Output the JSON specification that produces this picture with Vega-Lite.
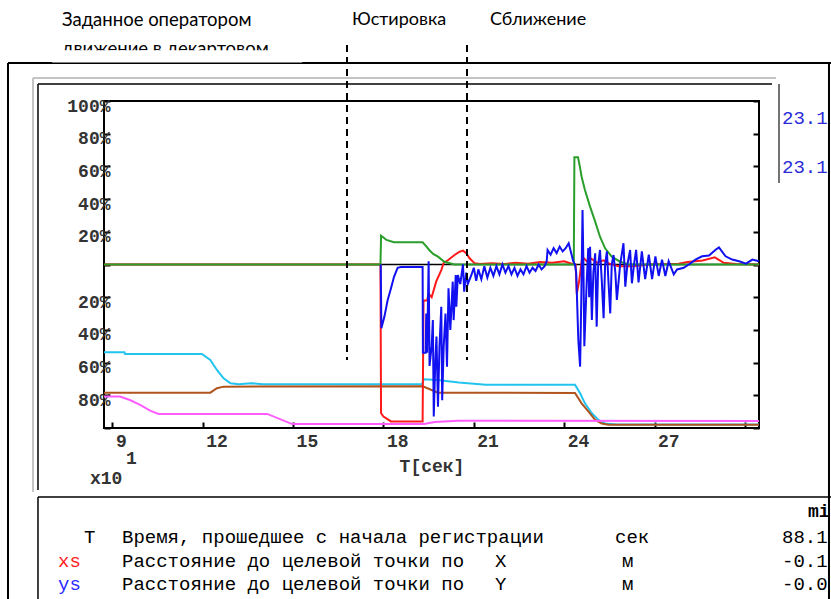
{
  "$schema": "https://vega.github.io/schema/vega-lite/v6.json",
  "width": 655,
  "height": 327,
  "autosize": {"type": "none"},
  "padding": {"left": 104, "top": 101, "right": 72, "bottom": 171},
  "background": "#ffffff",
  "data": {"values": [{}]},
  "config": {
    "view": {"stroke": "#000000", "strokeWidth": 2},
    "axis": {"grid": false, "domain": false, "tickColor": "#000000", "tickWidth": 2, "labelFont": "Liberation Mono", "labelFontSize": 18, "labelFontWeight": "bold", "labelColor": "#333333", "titleFont": "Liberation Mono", "titleFontSize": 18, "titleFontWeight": "bold", "titleColor": "#333333"}
  },
  "resolve": {"axis": {"y": "independent"}},
  "datasets": {
    "series": [
      {"s": "cyan", "t": 8.72, "v": -53.7}, {"s": "cyan", "t": 9.4, "v": -53.7}, {"s": "cyan", "t": 9.42, "v": -54.7}, {"s": "cyan", "t": 11.97, "v": -54.7}, {"s": "cyan", "t": 12.25, "v": -58.4}, {"s": "cyan", "t": 12.47, "v": -64.5}, {"s": "cyan", "t": 12.69, "v": -69.6}, {"s": "cyan", "t": 12.92, "v": -72.7}, {"s": "cyan", "t": 13.2, "v": -73.2}, {"s": "cyan", "t": 13.6, "v": -72.6}, {"s": "cyan", "t": 14.0, "v": -73.2}, {"s": "cyan", "t": 19.28, "v": -73.2}, {"s": "cyan", "t": 19.34, "v": -70.2}, {"s": "cyan", "t": 19.8, "v": -70.6}, {"s": "cyan", "t": 20.5, "v": -72.2}, {"s": "cyan", "t": 21.4, "v": -73.5}, {"s": "cyan", "t": 24.36, "v": -73.5}, {"s": "cyan", "t": 24.53, "v": -78.8}, {"s": "cyan", "t": 24.69, "v": -84.9}, {"s": "cyan", "t": 24.92, "v": -91}, {"s": "cyan", "t": 25.14, "v": -95.1}, {"s": "cyan", "t": 25.36, "v": -97.2}, {"s": "cyan", "t": 25.75, "v": -97.8}, {"s": "cyan", "t": 30.47, "v": -97.8},
      {"s": "brown", "t": 8.72, "v": -78.4}, {"s": "brown", "t": 12.25, "v": -78.4}, {"s": "brown", "t": 12.47, "v": -75.7}, {"s": "brown", "t": 12.69, "v": -74.7}, {"s": "brown", "t": 19.3, "v": -74.5}, {"s": "brown", "t": 19.5, "v": -76}, {"s": "brown", "t": 19.81, "v": -78.4}, {"s": "brown", "t": 24.36, "v": -78.6}, {"s": "brown", "t": 24.58, "v": -84.9}, {"s": "brown", "t": 24.81, "v": -90}, {"s": "brown", "t": 25.03, "v": -95.1}, {"s": "brown", "t": 25.25, "v": -97.2}, {"s": "brown", "t": 25.47, "v": -98}, {"s": "brown", "t": 30.47, "v": -98},
      {"s": "magenta", "t": 8.72, "v": -80.8}, {"s": "magenta", "t": 9.25, "v": -80.8}, {"s": "magenta", "t": 9.58, "v": -82.9}, {"s": "magenta", "t": 9.92, "v": -85.9}, {"s": "magenta", "t": 10.25, "v": -89.4}, {"s": "magenta", "t": 10.53, "v": -91.4}, {"s": "magenta", "t": 14.14, "v": -91.4}, {"s": "magenta", "t": 14.97, "v": -97.6}, {"s": "magenta", "t": 19.35, "v": -97.6}, {"s": "magenta", "t": 19.7, "v": -96.3}, {"s": "magenta", "t": 20.47, "v": -95.5}, {"s": "magenta", "t": 30.47, "v": -95.7},
      {"s": "red", "t": 8.72, "v": 0}, {"s": "red", "t": 17.9, "v": 0}, {"s": "red", "t": 17.92, "v": -91}, {"s": "red", "t": 18.0, "v": -93}, {"s": "red", "t": 18.25, "v": -96}, {"s": "red", "t": 19.3, "v": -96}, {"s": "red", "t": 19.33, "v": -22}, {"s": "red", "t": 19.45, "v": -22}, {"s": "red", "t": 19.5, "v": -18}, {"s": "red", "t": 19.6, "v": -20}, {"s": "red", "t": 19.75, "v": -10.5}, {"s": "red", "t": 19.92, "v": -3.4}, {"s": "red", "t": 20.0, "v": 1}, {"s": "red", "t": 20.14, "v": 2.6}, {"s": "red", "t": 20.36, "v": 5.8}, {"s": "red", "t": 20.53, "v": 7.8}, {"s": "red", "t": 20.64, "v": 8.5}, {"s": "red", "t": 20.75, "v": 6.9}, {"s": "red", "t": 20.86, "v": 3.8}, {"s": "red", "t": 21.03, "v": 0.7}, {"s": "red", "t": 21.2, "v": 0.3}, {"s": "red", "t": 21.6, "v": 0.8}, {"s": "red", "t": 22.0, "v": 0.3}, {"s": "red", "t": 22.4, "v": 1}, {"s": "red", "t": 22.8, "v": 0.5}, {"s": "red", "t": 23.2, "v": 1.5}, {"s": "red", "t": 23.6, "v": 1}, {"s": "red", "t": 24.0, "v": 2}, {"s": "red", "t": 24.25, "v": 0.5}, {"s": "red", "t": 24.38, "v": 0}, {"s": "red", "t": 24.42, "v": -18}, {"s": "red", "t": 24.5, "v": -10}, {"s": "red", "t": 24.6, "v": 4.8}, {"s": "red", "t": 24.75, "v": 2}, {"s": "red", "t": 24.9, "v": 3.5}, {"s": "red", "t": 25.1, "v": 1}, {"s": "red", "t": 25.3, "v": 2.5}, {"s": "red", "t": 25.5, "v": 0.5}, {"s": "red", "t": 25.8, "v": -1}, {"s": "red", "t": 26.3, "v": -1}, {"s": "red", "t": 26.8, "v": 0}, {"s": "red", "t": 27.8, "v": 0.5}, {"s": "red", "t": 28.1, "v": 1.5}, {"s": "red", "t": 28.6, "v": 2.5}, {"s": "red", "t": 29.0, "v": 4.4}, {"s": "red", "t": 29.3, "v": 1}, {"s": "red", "t": 29.7, "v": 0.3}, {"s": "red", "t": 30.47, "v": 0},
      {"s": "green", "t": 8.72, "v": 0}, {"s": "green", "t": 17.9, "v": 0}, {"s": "green", "t": 17.92, "v": 17.6}, {"s": "green", "t": 18.0, "v": 16.5}, {"s": "green", "t": 18.1, "v": 15}, {"s": "green", "t": 18.35, "v": 13.6}, {"s": "green", "t": 19.3, "v": 13.6}, {"s": "green", "t": 19.4, "v": 11.5}, {"s": "green", "t": 19.52, "v": 8.9}, {"s": "green", "t": 19.65, "v": 6.5}, {"s": "green", "t": 19.81, "v": 4.8}, {"s": "green", "t": 20.02, "v": 1.7}, {"s": "green", "t": 20.35, "v": 0}, {"s": "green", "t": 24.32, "v": 0}, {"s": "green", "t": 24.34, "v": 65.6}, {"s": "green", "t": 24.46, "v": 65.6}, {"s": "green", "t": 24.52, "v": 60}, {"s": "green", "t": 24.58, "v": 53.7}, {"s": "green", "t": 24.69, "v": 45.6}, {"s": "green", "t": 24.86, "v": 35.4}, {"s": "green", "t": 25.03, "v": 26.2}, {"s": "green", "t": 25.19, "v": 17.0}, {"s": "green", "t": 25.36, "v": 9.9}, {"s": "green", "t": 25.58, "v": 4.8}, {"s": "green", "t": 25.86, "v": 1.7}, {"s": "green", "t": 26.14, "v": 0}, {"s": "green", "t": 30.47, "v": 0},
      {"s": "blue", "t": 17.91, "v": 0}, {"s": "blue", "t": 17.93, "v": -39}, {"s": "blue", "t": 18.03, "v": -32}, {"s": "blue", "t": 18.14, "v": -21.7}, {"s": "blue", "t": 18.25, "v": -14.5}, {"s": "blue", "t": 18.35, "v": -7.5}, {"s": "blue", "t": 18.47, "v": -2}, {"s": "blue", "t": 18.58, "v": -1.6}, {"s": "blue", "t": 19.3, "v": -1.6}, {"s": "blue", "t": 19.31, "v": -54}, {"s": "blue", "t": 19.4, "v": -54}, {"s": "blue", "t": 19.42, "v": -30}, {"s": "blue", "t": 19.45, "v": -54}, {"s": "blue", "t": 19.5, "v": 2}, {"s": "blue", "t": 19.53, "v": -62}, {"s": "blue", "t": 19.6, "v": -50}, {"s": "blue", "t": 19.64, "v": -34}, {"s": "blue", "t": 19.67, "v": -93}, {"s": "blue", "t": 19.72, "v": -60}, {"s": "blue", "t": 19.76, "v": -44}, {"s": "blue", "t": 19.81, "v": -87}, {"s": "blue", "t": 19.86, "v": -50}, {"s": "blue", "t": 19.92, "v": -25.8}, {"s": "blue", "t": 19.95, "v": -83}, {"s": "blue", "t": 20.0, "v": -50}, {"s": "blue", "t": 20.06, "v": -30}, {"s": "blue", "t": 20.11, "v": -62.5}, {"s": "blue", "t": 20.16, "v": -14.5}, {"s": "blue", "t": 20.22, "v": -40}, {"s": "blue", "t": 20.3, "v": -10.5}, {"s": "blue", "t": 20.33, "v": -34}, {"s": "blue", "t": 20.4, "v": -6.4}, {"s": "blue", "t": 20.42, "v": -25.8}, {"s": "blue", "t": 20.47, "v": -6.4}, {"s": "blue", "t": 20.55, "v": -12}, {"s": "blue", "t": 20.64, "v": 0}, {"s": "blue", "t": 20.68, "v": -16.6}, {"s": "blue", "t": 20.75, "v": -5}, {"s": "blue", "t": 20.8, "v": -12}, {"s": "blue", "t": 20.92, "v": -6.4}, {"s": "blue", "t": 21.0, "v": -2}, {"s": "blue", "t": 21.08, "v": -10}, {"s": "blue", "t": 21.15, "v": -3}, {"s": "blue", "t": 21.25, "v": -9}, {"s": "blue", "t": 21.35, "v": -1}, {"s": "blue", "t": 21.45, "v": -8}, {"s": "blue", "t": 21.55, "v": -2}, {"s": "blue", "t": 21.65, "v": -7}, {"s": "blue", "t": 21.75, "v": -1}, {"s": "blue", "t": 21.85, "v": -6}, {"s": "blue", "t": 21.95, "v": 0}, {"s": "blue", "t": 22.05, "v": -5}, {"s": "blue", "t": 22.15, "v": -1}, {"s": "blue", "t": 22.25, "v": -6}, {"s": "blue", "t": 22.35, "v": -2}, {"s": "blue", "t": 22.45, "v": -7}, {"s": "blue", "t": 22.55, "v": -3}, {"s": "blue", "t": 22.65, "v": -6}, {"s": "blue", "t": 22.75, "v": -1}, {"s": "blue", "t": 22.85, "v": -5}, {"s": "blue", "t": 22.95, "v": -2}, {"s": "blue", "t": 23.05, "v": -4}, {"s": "blue", "t": 23.15, "v": 0}, {"s": "blue", "t": 23.25, "v": -3}, {"s": "blue", "t": 23.35, "v": -1}, {"s": "blue", "t": 23.42, "v": 2}, {"s": "blue", "t": 23.45, "v": 8.9}, {"s": "blue", "t": 23.55, "v": 6}, {"s": "blue", "t": 23.65, "v": 10}, {"s": "blue", "t": 23.75, "v": 7}, {"s": "blue", "t": 23.85, "v": 11}, {"s": "blue", "t": 23.95, "v": 8}, {"s": "blue", "t": 24.05, "v": 10}, {"s": "blue", "t": 24.15, "v": 13}, {"s": "blue", "t": 24.22, "v": 8}, {"s": "blue", "t": 24.3, "v": 2}, {"s": "blue", "t": 24.36, "v": 0}, {"s": "blue", "t": 24.4, "v": -5}, {"s": "blue", "t": 24.47, "v": -46}, {"s": "blue", "t": 24.53, "v": -62.5}, {"s": "blue", "t": 24.57, "v": -20}, {"s": "blue", "t": 24.61, "v": 33.3}, {"s": "blue", "t": 24.64, "v": 0}, {"s": "blue", "t": 24.67, "v": -50}, {"s": "blue", "t": 24.75, "v": -10}, {"s": "blue", "t": 24.8, "v": 10}, {"s": "blue", "t": 24.83, "v": -20}, {"s": "blue", "t": 24.86, "v": 10.9}, {"s": "blue", "t": 24.92, "v": -34}, {"s": "blue", "t": 24.97, "v": -5}, {"s": "blue", "t": 25.03, "v": 6.8}, {"s": "blue", "t": 25.08, "v": -38}, {"s": "blue", "t": 25.13, "v": 0}, {"s": "blue", "t": 25.19, "v": 8.9}, {"s": "blue", "t": 25.25, "v": -10}, {"s": "blue", "t": 25.31, "v": -32.9}, {"s": "blue", "t": 25.36, "v": 0}, {"s": "blue", "t": 25.42, "v": 8}, {"s": "blue", "t": 25.47, "v": -10}, {"s": "blue", "t": 25.53, "v": -29.9}, {"s": "blue", "t": 25.58, "v": 0}, {"s": "blue", "t": 25.64, "v": 5.8}, {"s": "blue", "t": 25.7, "v": -5}, {"s": "blue", "t": 25.75, "v": -21.7}, {"s": "blue", "t": 25.86, "v": 0}, {"s": "blue", "t": 25.97, "v": 13}, {"s": "blue", "t": 26.03, "v": -13.6}, {"s": "blue", "t": 26.1, "v": 0}, {"s": "blue", "t": 26.19, "v": 8.9}, {"s": "blue", "t": 26.25, "v": -11.5}, {"s": "blue", "t": 26.32, "v": 0}, {"s": "blue", "t": 26.39, "v": 9}, {"s": "blue", "t": 26.47, "v": -11}, {"s": "blue", "t": 26.58, "v": 8}, {"s": "blue", "t": 26.69, "v": -9}, {"s": "blue", "t": 26.81, "v": 6}, {"s": "blue", "t": 26.92, "v": -9}, {"s": "blue", "t": 27.03, "v": 5}, {"s": "blue", "t": 27.14, "v": -7}, {"s": "blue", "t": 27.25, "v": 3}, {"s": "blue", "t": 27.36, "v": -7}, {"s": "blue", "t": 27.47, "v": 2}, {"s": "blue", "t": 27.64, "v": -6}, {"s": "blue", "t": 27.75, "v": -3}, {"s": "blue", "t": 27.97, "v": -2}, {"s": "blue", "t": 28.14, "v": 0}, {"s": "blue", "t": 28.36, "v": 3}, {"s": "blue", "t": 28.58, "v": 5}, {"s": "blue", "t": 28.81, "v": 5.5}, {"s": "blue", "t": 29.03, "v": 9}, {"s": "blue", "t": 29.14, "v": 10.5}, {"s": "blue", "t": 29.36, "v": 5}, {"s": "blue", "t": 29.58, "v": 3}, {"s": "blue", "t": 29.81, "v": 2}, {"s": "blue", "t": 30.04, "v": 0.5}, {"s": "blue", "t": 30.25, "v": 3}, {"s": "blue", "t": 30.47, "v": 2}
    ]
  },
  "layer": [
    {"mark": {"type": "rule", "color": "#000000", "strokeWidth": 2}, "encoding": {"x": {"datum": 5.532}, "x2": {"datum": 33.16}, "y": {"datum": 123.24, "axis": null}}},
    {"mark": {"type": "rule", "color": "#000000", "strokeWidth": 2}, "encoding": {"x": {"datum": 5.532}, "y": {"datum": 123.24, "axis": null}, "y2": {"datum": -211.3}}},
    {"mark": {"type": "rule", "color": "#000000", "strokeWidth": 2}, "encoding": {"x": {"datum": 32.794}, "y": {"datum": 123.24, "axis": null}, "y2": {"datum": -211.3}}},
    {"mark": {"type": "rule", "color": "#c4c4c4", "strokeWidth": 2}, "encoding": {"x": {"datum": 6.362}, "x2": {"datum": 31.034}, "y": {"datum": 114.07, "axis": null}}},
    {"mark": {"type": "rule", "color": "#c4c4c4", "strokeWidth": 2}, "encoding": {"x": {"datum": 6.362}, "y": {"datum": 114.07, "axis": null}, "y2": {"datum": -139.14}}},
    {"mark": {"type": "rule", "color": "#000000", "strokeWidth": 1.5}, "encoding": {"x": {"datum": 6.528}, "x2": {"datum": 30.901}, "y": {"datum": 110.4, "axis": null}}},
    {"mark": {"type": "rule", "color": "#000000", "strokeWidth": 1.5}, "encoding": {"x": {"datum": 6.528}, "y": {"datum": 110.4, "axis": null}, "y2": {"datum": -137.92}}},
    {"mark": {"type": "rule", "color": "#444444", "strokeWidth": 1.5}, "encoding": {"x": {"datum": 31.134}, "y": {"datum": 110.4, "axis": null}, "y2": {"datum": 49.85}}},
    {"mark": {"type": "rule", "color": "#000000", "strokeWidth": 1.5}, "encoding": {"x": {"datum": 6.528}, "x2": {"datum": 33.16}, "y": {"datum": -142.2, "axis": null}}},
    {"mark": {"type": "rule", "color": "#000000", "strokeWidth": 1.5}, "encoding": {"x": {"datum": 6.528}, "y": {"datum": -142.2, "axis": null}, "y2": {"datum": -211.3}}},
    {"mark": {"type": "text", "text": "Заданное оператором", "font": "Lato", "fontSize": 18.5, "align": "left", "baseline": "middle", "color": "#000000"}, "encoding": {"x": {"datum": 7.325}, "y": {"datum": 149.54, "axis": null}}},
    {"mark": {"type": "text", "text": "движение в декартовом", "font": "Lato", "fontSize": 18.5, "align": "left", "baseline": "middle", "color": "#000000"}, "encoding": {"x": {"datum": 7.325}, "y": {"datum": 131.8, "axis": null}}},
    {"mark": {"type": "rect", "color": "#ffffff"}, "encoding": {"x": {"datum": 7.0}, "x2": {"datum": 15.3}, "y": {"datum": 131.0, "axis": null}, "y2": {"datum": 123.55}}},
    {"mark": {"type": "text", "text": "Юстировка", "font": "Lato", "fontSize": 18, "align": "left", "baseline": "middle", "color": "#000000"}, "encoding": {"x": {"datum": 16.955}, "y": {"datum": 149.54, "axis": null}}},
    {"mark": {"type": "text", "text": "Сближение", "font": "Lato", "fontSize": 18, "align": "left", "baseline": "middle", "color": "#000000"}, "encoding": {"x": {"datum": 21.538}, "y": {"datum": 149.54, "axis": null}}},
    {"mark": {"type": "text", "text": "23.1", "font": "Liberation Mono", "fontSize": 19, "align": "left", "baseline": "middle", "color": "#2a2ad8"}, "encoding": {"x": {"datum": 31.234}, "y": {"datum": 89.6, "axis": null}}},
    {"mark": {"type": "text", "text": "23.1", "font": "Liberation Mono", "fontSize": 19, "align": "left", "baseline": "middle", "color": "#2a2ad8"}, "encoding": {"x": {"datum": 31.234}, "y": {"datum": 59.63, "axis": null}}},
    {"mark": {"type": "text", "text": "x10", "font": "Liberation Mono", "fontSize": 18, "fontWeight": "bold", "align": "left", "baseline": "middle", "color": "#333333"}, "encoding": {"x": {"datum": 8.255}, "y": {"datum": -131.19, "axis": null}}},
    {"mark": {"type": "text", "text": "1", "font": "Liberation Mono", "fontSize": 18, "fontWeight": "bold", "align": "left", "baseline": "middle", "color": "#333333"}, "encoding": {"x": {"datum": 9.451}, "y": {"datum": -118.96, "axis": null}}},
    {"mark": {"type": "text", "text": "mi", "font": "Liberation Mono", "fontSize": 18, "fontWeight": "bold", "align": "left", "baseline": "middle", "color": "#000000"}, "encoding": {"x": {"datum": 32.097}, "y": {"datum": -151.38, "axis": null}}},
    {"mark": {"type": "text", "text": "T", "font": "Liberation Mono", "fontSize": 19, "align": "left", "baseline": "middle", "color": "#000000"}, "encoding": {"x": {"datum": 8.056}, "y": {"datum": -166.67, "axis": null}}},
    {"mark": {"type": "text", "text": "Время, прошедшее с начала регистрации", "font": "Liberation Mono", "fontSize": 19, "align": "left", "baseline": "middle", "color": "#000000"}, "encoding": {"x": {"datum": 9.318}, "y": {"datum": -166.67, "axis": null}}},
    {"mark": {"type": "text", "text": "сек", "font": "Liberation Mono", "fontSize": 19, "align": "left", "baseline": "middle", "color": "#000000"}, "encoding": {"x": {"datum": 25.688}, "y": {"datum": -166.67, "axis": null}}},
    {"mark": {"type": "text", "text": "88.1", "font": "Liberation Mono", "fontSize": 19, "align": "left", "baseline": "middle", "color": "#000000"}, "encoding": {"x": {"datum": 31.234}, "y": {"datum": -166.67, "axis": null}}},
    {"mark": {"type": "text", "text": "xs", "font": "Liberation Mono", "fontSize": 19, "align": "left", "baseline": "middle", "color": "#ff2020"}, "encoding": {"x": {"datum": 7.193}, "y": {"datum": -181.35, "axis": null}}},
    {"mark": {"type": "text", "text": "Расстояние до целевой точки по", "font": "Liberation Mono", "fontSize": 19, "align": "left", "baseline": "middle", "color": "#000000"}, "encoding": {"x": {"datum": 9.318}, "y": {"datum": -181.35, "axis": null}}},
    {"mark": {"type": "text", "text": "X", "font": "Liberation Mono", "fontSize": 19, "align": "left", "baseline": "middle", "color": "#000000"}, "encoding": {"x": {"datum": 21.703}, "y": {"datum": -181.35, "axis": null}}},
    {"mark": {"type": "text", "text": "м", "font": "Liberation Mono", "fontSize": 19, "align": "left", "baseline": "middle", "color": "#000000"}, "encoding": {"x": {"datum": 25.921}, "y": {"datum": -181.35, "axis": null}}},
    {"mark": {"type": "text", "text": "-0.1", "font": "Liberation Mono", "fontSize": 19, "align": "left", "baseline": "middle", "color": "#000000"}, "encoding": {"x": {"datum": 31.234}, "y": {"datum": -181.35, "axis": null}}},
    {"mark": {"type": "text", "text": "ys", "font": "Liberation Mono", "fontSize": 19, "align": "left", "baseline": "middle", "color": "#2a2aff"}, "encoding": {"x": {"datum": 7.193}, "y": {"datum": -195.41, "axis": null}}},
    {"mark": {"type": "text", "text": "Расстояние до целевой точки по", "font": "Liberation Mono", "fontSize": 19, "align": "left", "baseline": "middle", "color": "#000000"}, "encoding": {"x": {"datum": 9.318}, "y": {"datum": -195.41, "axis": null}}},
    {"mark": {"type": "text", "text": "Y", "font": "Liberation Mono", "fontSize": 19, "align": "left", "baseline": "middle", "color": "#000000"}, "encoding": {"x": {"datum": 21.703}, "y": {"datum": -195.41, "axis": null}}},
    {"mark": {"type": "text", "text": "м", "font": "Liberation Mono", "fontSize": 19, "align": "left", "baseline": "middle", "color": "#000000"}, "encoding": {"x": {"datum": 25.921}, "y": {"datum": -195.41, "axis": null}}},
    {"mark": {"type": "text", "text": "-0.0", "font": "Liberation Mono", "fontSize": 19, "align": "left", "baseline": "middle", "color": "#000000"}, "encoding": {"x": {"datum": 31.234}, "y": {"datum": -195.41, "axis": null}}},
    {"mark": {"type": "rule", "color": "#000000", "strokeWidth": 1.5}, "encoding": {"y": {"datum": 0, "axis": {"orient": "right", "values": [-100, -80, -60, -40, -20, 0, 20, 40, 60, 80, 100], "labels": false, "ticks": true, "tickSize": -6, "domain": false, "title": null}}}},
    {"data": {"name": "series"}, "transform": [{"filter": "datum.s === 'cyan'"}], "mark": {"type": "line", "strokeWidth": 2},
     "encoding": {
       "x": {"field": "t", "type": "quantitative", "scale": {"domain": [8.72, 30.47], "nice": false, "zero": false}, "axis": {"values": [9, 12, 15, 18, 21, 24, 27, 30], "labelExpr": "datum.value == 30 ? '' : datum.label", "labelAlign": "left", "labelOffset": 3, "labelBaseline": "middle", "tickSize": -6, "labelPadding": 19, "title": "T[сек]", "titleBaseline": "middle", "titleY": 38}},
       "y": {"field": "v", "type": "quantitative", "scale": {"domain": [-100, 100], "nice": false, "zero": false}, "axis": {"orient": "left", "values": [-100, -80, -60, -40, -20, 0, 20, 40, 60, 80, 100], "labelExpr": "datum.value == 0 || datum.value == -100 ? '' : abs(datum.value) + '%'", "tickSize": -6, "labelPadding": 0, "labelOffset": 5, "title": null}},
       "color": {"field": "s", "type": "nominal", "scale": {"domain": ["cyan", "brown", "magenta", "red", "green", "blue"], "range": ["#22c4ee", "#b0541e", "#ff5cff", "#ff1a1a", "#2a9e2a", "#1010f0"]}, "legend": null}}},
    {"data": {"name": "series"}, "transform": [{"filter": "datum.s === 'brown'"}], "mark": {"type": "line", "strokeWidth": 2},
     "encoding": {"x": {"field": "t", "type": "quantitative"}, "y": {"field": "v", "type": "quantitative", "axis": null}, "color": {"field": "s", "type": "nominal", "legend": null}}},
    {"data": {"name": "series"}, "transform": [{"filter": "datum.s === 'magenta'"}], "mark": {"type": "line", "strokeWidth": 2},
     "encoding": {"x": {"field": "t", "type": "quantitative"}, "y": {"field": "v", "type": "quantitative", "axis": null}, "color": {"field": "s", "type": "nominal", "legend": null}}},
    {"data": {"name": "series"}, "transform": [{"filter": "datum.s === 'red'"}], "mark": {"type": "line", "strokeWidth": 2},
     "encoding": {"x": {"field": "t", "type": "quantitative"}, "y": {"field": "v", "type": "quantitative", "axis": null}, "color": {"field": "s", "type": "nominal", "legend": null}}},
    {"data": {"name": "series"}, "transform": [{"filter": "datum.s === 'green'"}], "mark": {"type": "line", "strokeWidth": 2},
     "encoding": {"x": {"field": "t", "type": "quantitative"}, "y": {"field": "v", "type": "quantitative", "axis": null}, "color": {"field": "s", "type": "nominal", "legend": null}}},
    {"data": {"name": "series"}, "transform": [{"filter": "datum.s === 'blue'"}], "mark": {"type": "line", "strokeWidth": 2},
     "encoding": {"x": {"field": "t", "type": "quantitative"}, "y": {"field": "v", "type": "quantitative", "axis": null}, "color": {"field": "s", "type": "nominal", "legend": null}}},
    {"mark": {"type": "rule", "color": "#000000", "strokeWidth": 2, "strokeDash": [7, 5]}, "encoding": {"x": {"datum": 16.789}, "y": {"datum": 134.25, "axis": null}, "y2": {"datum": -58.41}}},
    {"mark": {"type": "rule", "color": "#000000", "strokeWidth": 2, "strokeDash": [7, 5]}, "encoding": {"x": {"datum": 20.774}, "y": {"datum": 134.25, "axis": null}, "y2": {"datum": -58.41}}}
  ]
}
